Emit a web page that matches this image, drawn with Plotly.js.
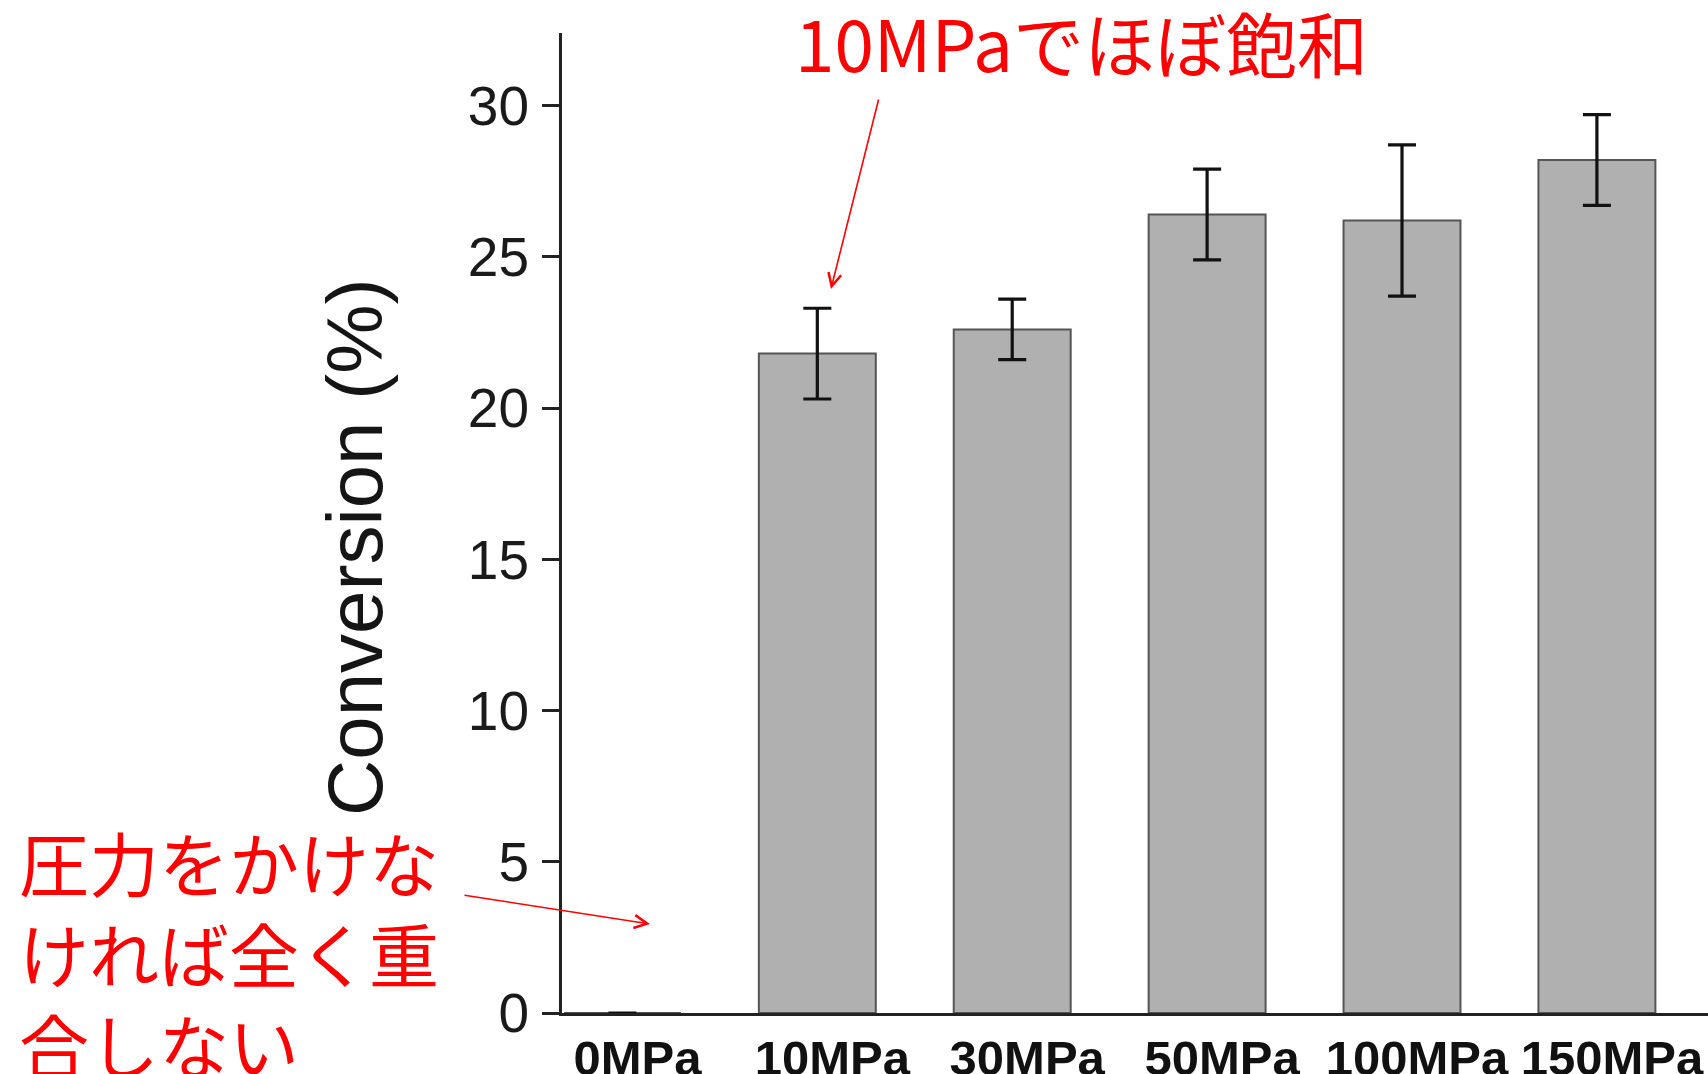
<!DOCTYPE html>
<html>
<head>
<meta charset="utf-8">
<script src="https://cdn.plot.ly/plotly-3.0.1.min.js"></script>
<style>
  html, body { margin: 0; padding: 0; background: #ffffff; }
  #chart { width: 1708px; height: 1074px; }
</style>
</head>
<body>
<div id="chart"></div>
<script>
// ---- Data ----
const categories = ['0MPa', '10MPa', '30MPa', '50MPa', '100MPa', '150MPa'];
const conversion = [0, 21.8, 22.6, 26.4, 26.2, 28.2];   // Conversion (%)
const errorValues = [0, 1.5, 1.0, 1.5, 2.5, 1.5];        // ± error
const yTickValues = [0, 5, 10, 15, 20, 25, 30];

// ---- Texts ----
const yTitleText = 'Conversion (%)';
const noteTop = '10MPaでほぼ飽和';
const noteLeft = '圧力をかけな<br>ければ全く重<br>合しない';

const trace = {
  type: 'bar',
  x: categories,
  y: conversion,
  width: 0.6,
  marker: {
    color: '#b0b0b0',
    line: { color: '#555555', width: 2 }
  },
  error_y: {
    type: 'data',
    array: errorValues,
    visible: true,
    color: '#111111',
    thickness: 3.2,
    width: 14
  },
  hoverinfo: 'skip'
};

const redFont = { family: '"Noto Sans CJK JP", "Noto Sans", sans-serif', color: '#ff0000' };

const layout = {
  width: 1708,
  height: 1074,
  margin: { l: 562, r: 0, t: 33, b: 61, pad: 0 },
  paper_bgcolor: '#ffffff',
  plot_bgcolor: '#ffffff',
  showlegend: false,
  xaxis: {
    type: 'category',
    range: [-0.31, 5.57],
    showline: true,
    linecolor: '#222222',
    linewidth: 3,
    ticks: '',
    ticklen: 0,
    tickangle: 0,
    showgrid: false,
    zeroline: false,
    ticklabelstandoff: 0,
    ticklabelshift: 15,
    tickfont: { family: '"Liberation Sans", Arial, sans-serif', size: 49, weight: 'bold', color: '#111111' },
    fixedrange: true
  },
  yaxis: {
    range: [0, 32.4],
    tickmode: 'array',
    tickvals: yTickValues,
    ticktext: yTickValues.map(String),
    ticks: 'outside',
    ticklen: 17,
    tickwidth: 3,
    tickcolor: '#222222',
    showline: true,
    linecolor: '#222222',
    linewidth: 3,
    showgrid: false,
    zeroline: false,
    ticklabelstandoff: 2,
    tickfont: { family: '"Liberation Sans", Arial, sans-serif', size: 55, color: '#1a1a1a' },
    fixedrange: true
  },
  annotations: [
    {
      text: yTitleText,
      xref: 'paper', yref: 'paper',
      x: -0.1806, y: 0.4755,
      xanchor: 'center', yanchor: 'middle',
      textangle: -90,
      showarrow: false,
      font: { family: '"Liberation Sans", Arial, sans-serif', size: 78, color: '#151515' }
    },
    {
      text: noteTop,
      xref: 'paper', yref: 'paper',
      x: 0.4529, y: 0.9917,
      xanchor: 'center', yanchor: 'middle',
      showarrow: false,
      font: Object.assign({ size: 71 }, redFont)
    },
    {
      text: noteLeft,
      xref: 'paper', yref: 'paper',
      x: -0.4756, y: 0.208,
      xanchor: 'left', yanchor: 'top',
      align: 'left',
      showarrow: false,
      font: Object.assign({ size: 70 }, redFont)
    },
    {
      text: '',
      xref: 'paper', yref: 'paper',
      x: 0.2347, y: 0.7388,
      ax: 48, ay: -191,
      showarrow: true,
      arrowhead: 5,
      arrowsize: 1.6,
      arrowwidth: 1.6,
      arrowcolor: '#ff0000'
    },
    {
      text: '',
      xref: 'paper', yref: 'paper',
      x: 0.0768, y: 0.0908,
      ax: -187, ay: -29,
      showarrow: true,
      arrowhead: 5,
      arrowsize: 1.6,
      arrowwidth: 1.6,
      arrowcolor: '#ff0000'
    }
  ]
};

Plotly.newPlot('chart', [trace], layout, { displayModeBar: false, staticPlot: true });
</script>
</body>
</html>
